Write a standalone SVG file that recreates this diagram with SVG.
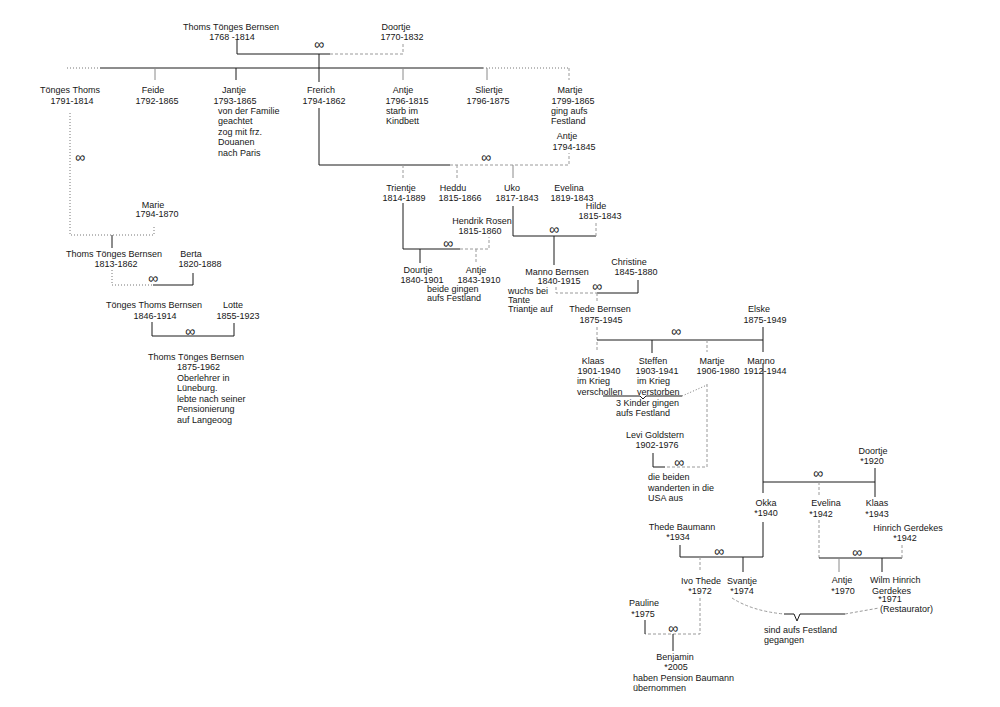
<svg xmlns="http://www.w3.org/2000/svg" width="1000" height="707" viewBox="0 0 1000 707">
<style>
text{font-family:"Liberation Sans",Arial,sans-serif;font-size:9px;fill:#161616}
.c{text-anchor:middle}
.m{font-size:14px;text-anchor:middle;fill:#222}
.s{fill:none;stroke:#1a1a1a;stroke-width:1}
.g{fill:none;stroke:#8a8a8a;stroke-width:1}
.d{fill:none;stroke:#9a9a9a;stroke-width:1;stroke-dasharray:3,2}
.p{fill:none;stroke:#777;stroke-width:1;stroke-dasharray:1,2}
</style>
<rect width="1000" height="707" fill="#fff"/>
<g id="connectors">
<path class="s" d="M237 40V54H330"/>
<path class="d" d="M330 54H403V44"/>
<path class="s" d="M319 54V82"/>
<path class="p" d="M67 68H100"/>
<path class="s" d="M100 68H483"/>
<path class="p" d="M483 68H569"/>
<path class="g" d="M155 68V80"/>
<path class="s" d="M236 68V80"/>
<path class="g" d="M403 68V80"/>
<path class="g" d="M487 68V80"/>
<path class="d" d="M569 68V80"/>
<path class="p" d="M70 113V235H154V225"/>
<path class="s" d="M112 235V248"/>
<path class="p" d="M112 270V285H153"/>
<path class="s" d="M153 285H193V273"/>
<path class="s" d="M152 322V336H234V323"/>
<path class="s" d="M319 108V165H450"/>
<path class="d" d="M450 165H569V153"/>
<path class="d" d="M403 165V180"/>
<path class="d" d="M457 165V178"/>
<path class="g" d="M513 165V178"/>
<path class="s" d="M403 203V249H460"/>
<path class="d" d="M460 249H489V237"/>
<path class="s" d="M420 249V263"/>
<path class="d" d="M476 249V263"/>
<path class="s" d="M513 206V236H596"/>
<path class="d" d="M596 236V222"/>
<path class="s" d="M554 236V265"/>
<path class="d" d="M556 287V293H597"/>
<path class="s" d="M597 293H638V280"/>
<path class="d" d="M597 293V303"/>
<path class="d" d="M597 327V352"/>
<path class="s" d="M597 340H763"/>
<path class="s" d="M763 327V352"/>
<path class="s" d="M652 340V353"/>
<path class="d" d="M707 340V352"/>
<path class="s" d="M603 396H640L643 399L646 396H682"/>
<path class="p" d="M682 396L707 385"/>
<path class="d" d="M707 384V467H665"/>
<path class="s" d="M653 453V467H665"/>
<path class="s" d="M763 363V493"/>
<path class="s" d="M763 482H875V468"/>
<path class="s" d="M875 482V497"/>
<path class="d" d="M819 482V497"/>
<path class="d" d="M819 520V558"/>
<path class="s" d="M819 558H902"/>
<path class="d" d="M902 558V545"/>
<path class="g" d="M839 558V572"/>
<path class="s" d="M882 558V572"/>
<path class="s" d="M763 522V557H680V545"/>
<path class="s" d="M743 557V572"/>
<path class="d" d="M700 557V572"/>
<path class="d" d="M700 598V634H645"/>
<path class="s" d="M645 620V634"/>
<path class="s" d="M673 634V651"/>
<path class="d" d="M732 598Q752 611 784 614"/>
<path class="s" d="M784 614H794L797 621L800 614H845"/>
<path class="d" d="M845 614L879 608"/>
<text class="m" x="319" y="49">∞</text>
<text class="m" x="80" y="162">∞</text>
<text class="m" x="153" y="283">∞</text>
<text class="m" x="190" y="336">∞</text>
<text class="m" x="486" y="162">∞</text>
<text class="m" x="448" y="248">∞</text>
<text class="m" x="554" y="234">∞</text>
<text class="m" x="597" y="291">∞</text>
<text class="m" x="676" y="336">∞</text>
<text class="m" x="679" y="467">∞</text>
<text class="m" x="818" y="478">∞</text>
<text class="m" x="857" y="557">∞</text>
<text class="m" x="719" y="556">∞</text>
<text class="m" x="673" y="633">∞</text>
</g>
<g id="n-thoms1768"><text class="c" x="231" y="30">Thoms Tönges Bernsen</text><text class="c" x="232" y="40">1768 -1814</text></g>
<g id="n-doortje1770"><text class="c" x="396" y="30">Doortje</text><text class="c" x="402" y="40">1770-1832</text></g>
<g id="n-toenges1791"><text class="c" x="70" y="93">Tönges Thoms</text><text class="c" x="72" y="104">1791-1814</text></g>
<g id="n-feide"><text class="c" x="153" y="93">Feide</text><text class="c" x="157" y="104">1792-1865</text></g>
<g id="n-jantje"><text class="c" x="234" y="93">Jantje</text><text class="c" x="235" y="104">1793-1865</text>
<text x="218" y="114">von der Familie</text><text x="218" y="124">geachtet</text><text x="218" y="135">zog mit frz.</text><text x="218" y="145">Douanen</text><text x="218" y="156">nach Paris</text></g>
<g id="n-frerich"><text class="c" x="321" y="93">Frerich</text><text class="c" x="324" y="104">1794-1862</text></g>
<g id="n-antje1796"><text class="c" x="403" y="93">Antje</text><text class="c" x="407" y="104">1796-1815</text><text x="386" y="114">starb im</text><text x="386" y="124">Kindbett</text></g>
<g id="n-sliertje"><text class="c" x="489" y="93">Sliertje</text><text class="c" x="488" y="104">1796-1875</text></g>
<g id="n-martje1799"><text class="c" x="570" y="93">Martje</text><text class="c" x="573" y="104">1799-1865</text><text x="551" y="114">ging aufs</text><text x="551" y="124">Festland</text></g>
<g id="n-antje1794"><text class="c" x="567" y="139">Antje</text><text class="c" x="574" y="150">1794-1845</text></g>
<g id="n-marie"><text class="c" x="153" y="208">Marie</text><text class="c" x="157" y="217">1794-1870</text></g>
<g id="n-thoms1813"><text class="c" x="114" y="257">Thoms Tönges Bernsen</text><text class="c" x="116" y="267">1813-1862</text></g>
<g id="n-berta"><text class="c" x="191" y="257">Berta</text><text class="c" x="200" y="267">1820-1888</text></g>
<g id="n-toenges1846"><text class="c" x="154" y="308">Tönges Thoms Bernsen</text><text class="c" x="155" y="319">1846-1914</text></g>
<g id="n-lotte"><text class="c" x="233" y="308">Lotte</text><text class="c" x="238" y="319">1855-1923</text></g>
<g id="n-thoms1875"><text class="c" x="196" y="360">Thoms Tönges Bernsen</text><text x="177" y="370">1875-1962</text><text x="177" y="381">Oberlehrer in</text><text x="177" y="391">Lüneburg.</text><text x="177" y="402">lebte nach seiner</text><text x="177" y="412">Pensionierung</text><text x="177" y="423">auf Langeoog</text></g>
<g id="n-trientje"><text class="c" x="401" y="191">Trientje</text><text class="c" x="404" y="201">1814-1889</text></g>
<g id="n-heddu"><text class="c" x="453" y="191">Heddu</text><text class="c" x="460" y="201">1815-1866</text></g>
<g id="n-uko"><text class="c" x="512" y="191">Uko</text><text class="c" x="517" y="201">1817-1843</text></g>
<g id="n-evelina1819"><text class="c" x="569" y="191">Evelina</text><text class="c" x="572" y="201">1819-1843</text></g>
<g id="n-hilde"><text class="c" x="596" y="209">Hilde</text><text class="c" x="600" y="219">1815-1843</text></g>
<g id="n-hendrik"><text class="c" x="482" y="224">Hendrik Rosen</text><text class="c" x="480" y="234">1815-1860</text></g>
<g id="n-dourtje"><text class="c" x="418" y="273">Dourtje</text><text class="c" x="422" y="283">1840-1901</text></g>
<g id="n-antje1843"><text class="c" x="476" y="273">Antje</text><text class="c" x="479" y="283">1843-1910</text></g>
<g id="note-beide"><text x="427" y="292">beide gingen</text><text x="427" y="301">aufs Festland</text></g>
<g id="n-manno1840"><text class="c" x="557" y="275">Manno Bernsen</text><text class="c" x="559" y="284">1840-1915</text><text x="508" y="294">wuchs bei</text><text x="508" y="303">Tante</text><text x="508" y="312">Triantje auf</text></g>
<g id="n-christine"><text class="c" x="629" y="265">Christine</text><text class="c" x="636" y="275">1845-1880</text></g>
<g id="n-thede1875"><text class="c" x="600" y="312">Thede Bernsen</text><text class="c" x="601" y="323">1875-1945</text></g>
<g id="n-elske"><text class="c" x="759" y="312">Elske</text><text class="c" x="765" y="323">1875-1949</text></g>
<g id="n-klaas1901"><text class="c" x="593" y="364">Klaas</text><text class="c" x="599" y="374">1901-1940</text><text x="577" y="384">im Krieg</text><text x="577" y="395">verschollen</text></g>
<g id="n-steffen"><text class="c" x="653" y="364">Steffen</text><text class="c" x="657" y="374">1903-1941</text><text x="637" y="384">im Krieg</text><text x="637" y="395">verstorben</text></g>
<g id="n-martje1906"><text class="c" x="712" y="364">Martje</text><text class="c" x="718" y="374">1906-1980</text></g>
<g id="n-manno1912"><text class="c" x="761" y="364">Manno</text><text class="c" x="765" y="374">1912-1944</text></g>
<g id="note-kinder"><text x="616" y="406">3 Kinder gingen</text><text x="616" y="416">aufs Festland</text></g>
<g id="n-levi"><text class="c" x="655" y="438">Levi Goldstern</text><text class="c" x="657" y="448">1902-1976</text><text x="648" y="480">die beiden</text><text x="648" y="491">wanderten in die</text><text x="648" y="501">USA aus</text></g>
<g id="n-doortje1920"><text class="c" x="873" y="454">Doortje</text><text class="c" x="872" y="464">*1920</text></g>
<g id="n-okka"><text class="c" x="766" y="506">Okka</text><text class="c" x="766" y="516">*1940</text></g>
<g id="n-evelina1942"><text class="c" x="826" y="506">Evelina</text><text class="c" x="821" y="517">*1942</text></g>
<g id="n-klaas1943"><text class="c" x="877" y="506">Klaas</text><text class="c" x="877" y="517">*1943</text></g>
<g id="n-hinrich"><text class="c" x="908" y="531">Hinrich Gerdekes</text><text class="c" x="905" y="541">*1942</text></g>
<g id="n-thede1934"><text class="c" x="682" y="530">Thede Baumann</text><text class="c" x="678" y="540">*1934</text></g>
<g id="n-antje1970"><text class="c" x="842" y="583">Antje</text><text class="c" x="843" y="594">*1970</text></g>
<g id="n-wilm"><text x="870" y="583">Wilm Hinrich</text><text x="872" y="594">Gerdekes</text><text class="c" x="890" y="602">*1971</text><text x="880" y="612">(Restaurator)</text></g>
<g id="n-ivo"><text class="c" x="701" y="584">Ivo Thede</text><text class="c" x="700" y="594">*1972</text></g>
<g id="n-svantje"><text class="c" x="742" y="584">Svantje</text><text class="c" x="742" y="594">*1974</text></g>
<g id="n-pauline"><text class="c" x="644" y="606">Pauline</text><text class="c" x="643" y="617">*1975</text></g>
<g id="n-benjamin"><text class="c" x="675" y="660">Benjamin</text><text class="c" x="676" y="670">*2005</text><text x="633" y="681">haben Pension Baumann</text><text x="633" y="691">übernommen</text></g>
<g id="note-festland"><text x="764" y="633">sind aufs Festland</text><text x="764" y="643">gegangen</text></g>
</svg>
